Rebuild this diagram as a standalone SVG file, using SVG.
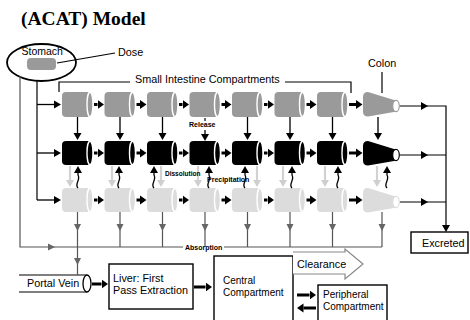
<svg xmlns="http://www.w3.org/2000/svg" xmlns:xlink="http://www.w3.org/1999/xlink" width="470" height="320" viewBox="0 0 470 320">
<style>
text{font-family:"Liberation Sans",Arial,sans-serif;fill:#000}
.t11{font-size:10.8px}
.t10{font-size:10px}
.sb{font-size:7px;font-weight:bold}
.title{font-family:"Liberation Serif","Times New Roman",serif;font-size:19.5px;font-weight:bold}
.ln{stroke:#000;stroke-width:1.2;fill:none}
.thick{stroke:#000;stroke-width:3;fill:none;marker-end:url(#hk)}
.thin{stroke:#000;stroke-width:1.3;fill:none;marker-end:url(#ah)}
.light{stroke:#d2d2d2;stroke-width:2.2;fill:none;marker-end:url(#al)}
.gl{stroke:#555;stroke-width:1.2;fill:none}
.box{fill:#fff;stroke:#000;stroke-width:1.4}
.hd{fill:#000}
.ghd{fill:#666}
</style>
<defs>
<marker id="hk" markerUnits="userSpaceOnUse" viewBox="0 -5 7 10" refX="0" refY="0" markerWidth="7" markerHeight="10" orient="auto"><path d="M0,-4.5 L6.5,0 L0,4.5 z" fill="#000"/></marker>
<marker id="ah" markerUnits="userSpaceOnUse" viewBox="0 -5 8 10" refX="0" refY="0" markerWidth="8" markerHeight="10" orient="auto"><path d="M0,-4 L7,0 L0,4 z" fill="#000"/></marker>
<marker id="al" markerUnits="userSpaceOnUse" viewBox="0 -5 8 10" refX="0" refY="0" markerWidth="8" markerHeight="10" orient="auto"><path d="M0,-4 L7,0 L0,4 z" fill="#cfcfcf"/></marker>
<path id="cylT" d="M4,0 H28 V25 H4 Q0,25 0,21 V4 Q0,0 4,0 Z"/>
<path id="cylS" d="M4,0 H28 V24 H4 Q0,24 0,20 V4 Q0,0 4,0 Z"/>
<g id="cylGray"><use xlink:href="#cylT" fill="#9a9a9a"/><ellipse cx="28" cy="12.5" rx="3" ry="12.3" fill="#9a9a9a" stroke="#fff" stroke-width="1.4"/></g>
<g id="cylBlack"><use xlink:href="#cylS" fill="#000"/><ellipse cx="28" cy="12" rx="3" ry="11.8" fill="#000" stroke="#fff" stroke-width="1.4"/></g>
<g id="cylLight"><use xlink:href="#cylS" fill="#dcdcdc"/><ellipse cx="28" cy="12" rx="3" ry="11.8" fill="#dcdcdc" stroke="#fff" stroke-width="1.4"/></g>
<path id="colonP" d="M5,0 L31,8 Q34,8 34,14 Q34,20 31,20 L5,24.5 Q0,24.5 0,19.5 V5 Q0,0 5,0 Z"/>
</defs>

<text class="title" x="21" y="25">(ACAT) Model</text>

<g id="stomach">
<ellipse cx="41.5" cy="62.5" rx="34.5" ry="18.5" fill="none" stroke="#000" stroke-width="1.8"/>
<text x="21.5" y="55" style="font-size:10.5px">Stomach</text>
<rect x="27" y="58" width="29" height="12" rx="4" fill="#9a9a9a"/>
</g>
<g id="dose">
<text class="t11" x="118" y="56">Dose</text>
</g>
<g id="si-label">
<text class="t11" x="135" y="83">Small Intestine Compartments</text>
</g>
<g id="colon-label">
<text class="t11" x="368" y="67">Colon</text>
</g>

<g id="row-top">
<use id="si1-u" xlink:href="#cylGray" x="62" y="92"/>
<use id="si2-u" xlink:href="#cylGray" x="104.5" y="92"/>
<use id="si3-u" xlink:href="#cylGray" x="147" y="92"/>
<use id="si4-u" xlink:href="#cylGray" x="189.5" y="92"/>
<use id="si5-u" xlink:href="#cylGray" x="232" y="92"/>
<use id="si6-u" xlink:href="#cylGray" x="274.5" y="92"/>
<use id="si7-u" xlink:href="#cylGray" x="317" y="92"/>
<g id="colon-u"><use xlink:href="#colonP" x="363" y="92" fill="#9a9a9a"/><ellipse cx="396" cy="106" rx="3.3" ry="5.6" fill="#fff" stroke="#9a9a9a" stroke-width="1.2"/></g>
</g>
<g id="row-mid">
<use id="si1-d" xlink:href="#cylBlack" x="62" y="141"/>
<use id="si2-d" xlink:href="#cylBlack" x="104.5" y="141"/>
<use id="si3-d" xlink:href="#cylBlack" x="147" y="141"/>
<use id="si4-d" xlink:href="#cylBlack" x="189.5" y="141"/>
<use id="si5-d" xlink:href="#cylBlack" x="232" y="141"/>
<use id="si6-d" xlink:href="#cylBlack" x="274.5" y="141"/>
<use id="si7-d" xlink:href="#cylBlack" x="317" y="141"/>
<g id="colon-d"><use xlink:href="#colonP" x="363" y="141" fill="#000"/><ellipse cx="396" cy="155" rx="3.3" ry="5.6" fill="#fff" stroke="#000" stroke-width="1.2"/></g>
</g>
<g id="row-bot">
<use id="si1-s" xlink:href="#cylLight" x="62" y="188"/>
<use id="si2-s" xlink:href="#cylLight" x="104.5" y="188"/>
<use id="si3-s" xlink:href="#cylLight" x="147" y="188"/>
<use id="si4-s" xlink:href="#cylLight" x="189.5" y="188"/>
<use id="si5-s" xlink:href="#cylLight" x="232" y="188"/>
<use id="si6-s" xlink:href="#cylLight" x="274.5" y="188"/>
<use id="si7-s" xlink:href="#cylLight" x="317" y="188"/>
<g id="colon-s"><use xlink:href="#colonP" x="363" y="188" fill="#dcdcdc"/><ellipse cx="396" cy="202" rx="3.3" ry="5.6" fill="#fff" stroke="#dcdcdc" stroke-width="1.2"/></g>
</g>

<g id="excreted">
<rect class="box" x="411" y="232" width="57" height="21"/>
<text class="t11" x="422" y="247">Excreted</text>
</g>
<g id="portal-vein">
<path class="ln" d="M19,275 H87 M19,292 H87" stroke-width="1.3"/>
<ellipse cx="87" cy="283.5" rx="4" ry="8.5" fill="#fff" stroke="#000" stroke-width="1.3"/>
<text class="t11" x="27" y="287">Portal Vein</text>
</g>
<g id="liver">
<rect class="box" x="109" y="264" width="84" height="45"/>
<text class="t11" x="113" y="282">Liver: First</text>
<text class="t11" x="113" y="294">Pass Extraction</text>
</g>
<g id="central">
<rect class="box" x="214" y="256" width="79" height="75"/>
<text class="t10" x="223" y="284">Central</text>
<text class="t10" x="223" y="296">Compartment</text>
</g>
<g id="peripheral">
<rect class="box" x="318" y="285" width="69" height="45"/>
<text class="t10" x="323" y="298">Peripheral</text>
<text class="t10" x="323" y="310">Compartment</text>
</g>

<g id="connectors">
<path class="ln" d="M57,63 L115,53" stroke-width="1"/>
<path class="ln" d="M59,92 V82 H130 M285,82 H351 V93" stroke-width="1"/>
<path class="ln" d="M382,72 V93" stroke-width="1"/>
<path class="ln" d="M37,80 V200" stroke-width="1.3"/>
<path class="thin" d="M37,104.5 H54"/>
<path class="thin" d="M37,153 H54"/>
<path class="thin" d="M37,200 H54"/>
<g id="transit">
<path class="thick" d="M94,104.5 H97.5"/><path class="thick" d="M136.5,104.5 H140"/><path class="thick" d="M179,104.5 H182.5"/><path class="thick" d="M221.5,104.5 H225"/><path class="thick" d="M264,104.5 H267.5"/><path class="thick" d="M306.5,104.5 H310"/><path class="thick" d="M349,104.5 H356"/>
<path class="thick" d="M94,153 H97.5"/><path class="thick" d="M136.5,153 H140"/><path class="thick" d="M179,153 H182.5"/><path class="thick" d="M221.5,153 H225"/><path class="thick" d="M264,153 H267.5"/><path class="thick" d="M306.5,153 H310"/><path class="thick" d="M349,153 H356"/>
<path class="thick" d="M94,200 H97.5"/><path class="thick" d="M136.5,200 H140"/><path class="thick" d="M179,200 H182.5"/><path class="thick" d="M221.5,200 H225"/><path class="thick" d="M264,200 H267.5"/><path class="thick" d="M306.5,200 H310"/><path class="thick" d="M349,200 H356"/>
</g>
<path class="thin" d="M77.5,117 V133"/>
<path class="thin" d="M120,117 V133"/>
<path class="thin" d="M162.5,117 V133"/>
<path class="ln" d="M205,118 V121" stroke-width="1.2"/>
<path class="thin" d="M205,130 V134"/>
<path class="thin" d="M247.5,117 V133"/>
<path class="thin" d="M290,117 V133"/>
<path class="thin" d="M332.5,117 V133"/>
<path class="thin" d="M378,117 V133"/>
<path class="light" d="M70,166 V180"/>
<path class="light" d="M112,166 V180"/>
<path class="light" d="M161,166 V180"/>
<path class="light" d="M198,166 V180"/>
<path class="light" d="M257,166 V180"/>
<path class="light" d="M283,166 V180"/>
<path class="light" d="M325,166 V180"/>
<path class="light" d="M377,166 V180"/>
<path class="thin" d="M78,188 C74,184 81,180 78,175 V173"/>
<path class="thin" d="M119,188 C115,184 122,180 119,175 V173"/>
<path class="thin" d="M154,188 C150,184 157,180 154,175 V173"/>
<path class="thin" d="M209,188 C205,184 212,180 209,175 V173"/>
<path class="thin" d="M245,188 C241,184 248,180 245,175 V173"/>
<path class="thin" d="M292,188 C288,184 295,180 292,175 V173"/>
<path class="thin" d="M338,188 C334,184 341,180 338,175 V173"/>
<path class="thin" d="M387,188 C383,184 390,180 387,175 V173"/>
<path class="ln" d="M400,106 H446 V226 M400,155 H446 M400,202 H446" stroke-width="1.3"/>
<path class="hd" d="M421,102 L428,106 L421,110 Z M421,151 L428,155 L421,159 Z M421,198 L428,202 L421,206 Z M442,225 L446,232 L450,225 Z"/>
<path class="gl" d="M20,76 V247 H183 M224,247 H382 M77.5,212 V247 M120,212 V247 M162.5,212 V247 M205,212 V247 M247.5,212 V247 M290,212 V247 M332.5,212 V247 M382,212 V247 M77.5,247 V275"/>
<path class="ghd" d="M74,224 L77.5,231 L81,224 Z M116.5,224 L120,231 L123.5,224 Z M159,224 L162.5,231 L166,224 Z M201.5,224 L205,231 L208.5,224 Z M244,224 L247.5,231 L251,224 Z M286.5,224 L290,231 L293.5,224 Z M329,224 L332.5,231 L336,224 Z M378.5,224 L382,231 L385.5,224 Z M74,258 L77.5,265 L81,258 Z M48,243.5 L55,247 L48,250.5 Z"/>
<path class="thick" d="M92,284 H101.5"/>
<path class="thick" d="M194,287 H205.5"/>
<polyline points="293,252 345,252 345,249 363,264 345,279 345,274 293,274" fill="#fff" stroke="#888" stroke-width="1.2"/>
<path class="thick" d="M297,295 H309.5"/>
<path class="thick" d="M316,308 H303.5"/>
</g>

<text class="sb" x="189" y="127">Release</text>
<text class="sb" x="165" y="176" style="font-size:6.5px">Dissolution</text>
<text class="sb" x="207" y="182">Precipitation</text>
<text class="sb" x="185" y="249.5">Absorption</text>
<text class="t11" x="297" y="268">Clearance</text>
</svg>
